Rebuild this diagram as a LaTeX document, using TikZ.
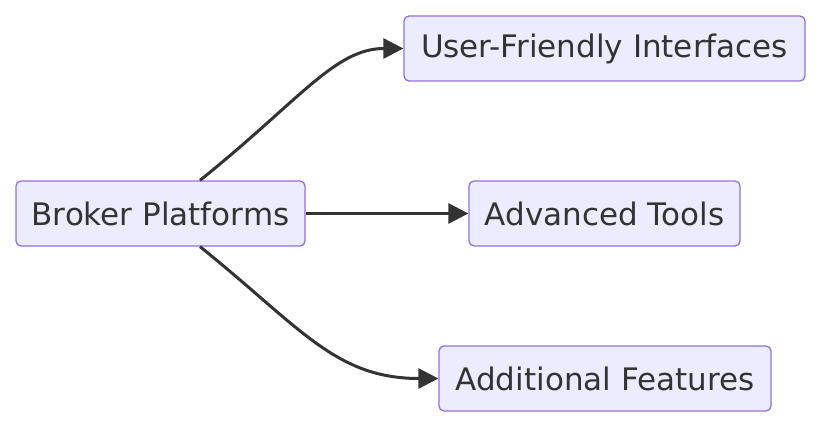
\documentclass[tikz,border=0pt]{standalone}
\usepackage{fontspec}
\setmainfont{DejaVu Sans}
\usetikzlibrary{arrows.meta}
\definecolor{nfill}{HTML}{ECECFF}
\definecolor{nstroke}{HTML}{9370DB}
\definecolor{ink}{HTML}{333333}
\begin{document}
\begin{tikzpicture}[x=1pt,y=-1pt,
  box/.style={draw=nstroke,fill=nfill,line width=1.3pt,rounded corners=5pt,text=ink,
    font=\fontsize{31}{36}\selectfont,inner sep=0pt,minimum height=65pt,anchor=center},
  edge/.style={draw=ink,line width=3pt,-{Triangle[length=20pt,width=20pt]}}]
\useasboundingbox (0,0) rectangle (838,436);
\node[box,minimum width=289pt] (b) at (160.5,213.5) {Broker Platforms};
\node[box,minimum width=401pt] (u) at (604.5,48.5) {User-Friendly Interfaces};
\node[box,minimum width=271pt] (a) at (604.5,213.5) {Advanced Tools};
\node[box,minimum width=332pt] (f) at (605,378.5) {Additional Features};
\draw[edge] ([xshift=39.5pt]b.north) .. controls (300,100) and (335,48.5) .. (u.west);
\draw[edge] (b.east) -- (a.west);
\draw[edge] ([xshift=39.5pt]b.south) .. controls (300,327) and (335,378.5) .. (f.west);
\end{tikzpicture}
\end{document}
